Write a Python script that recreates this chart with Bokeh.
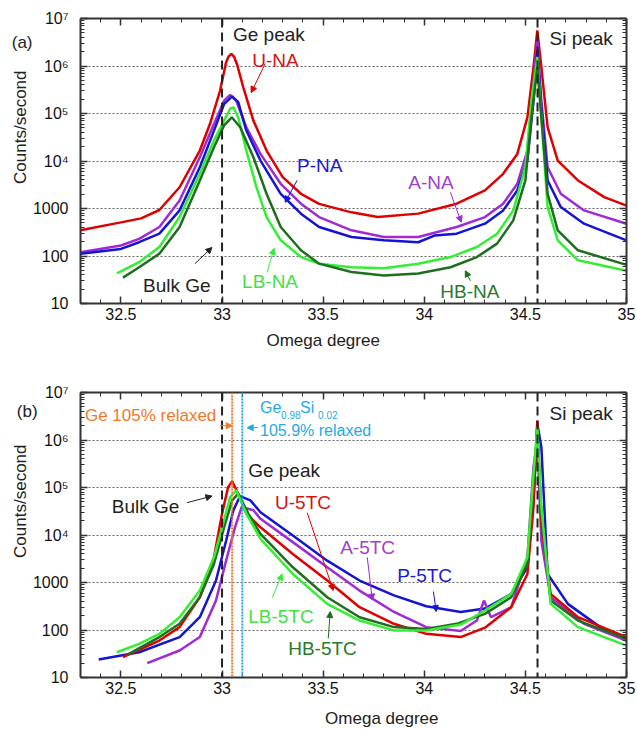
import numpy as np
from bokeh.plotting import figure
from bokeh.layouts import column
from bokeh.models import (FixedTicker, LinearAxis, LogAxis, Span, Label, Title,
                          Arrow, NormalHead, Range1d)
from bokeh.embed import file_html
from bokeh.resources import INLINE

FONT = "Liberation Sans"

# ---------------------------------------------------------------- axes data
x_ticks = [32.5, 33.0, 33.5, 34.0, 34.5, 35.0]
x_tick_labels = ["32.5", "33", "33.5", "34", "34.5", "35"]
y_ticks = [1e1, 1e2, 1e3, 1e4, 1e5, 1e6, 1e7]
y_tick_labels = ["10", "100", "1000", "10\u2074", "10\u2075", "10\u2076", "10\u2077"]

bulk_ge_omega = 33.0
si_peak_omega = 34.56
ge_relaxed_omega = 33.05
gesi_relaxed_omega = 33.10

# ------------------------------------------------------- (a) as-grown (NA)
u_na_x = [32.30, 32.50, 32.60, 32.69, 32.79, 32.89, 32.94, 32.99, 33.02, 33.033,
          33.046, 33.06, 33.075, 33.105, 33.155, 33.22, 33.30, 33.39, 33.48, 33.64,
          33.77, 33.97, 34.16, 34.30, 34.39, 34.46, 34.51, 34.54, 34.559, 34.579,
          34.61, 34.66, 34.76, 34.89, 35.0]
u_na_y = [350, 510, 620, 930, 2800, 16600, 60000, 300000, 1200000, 1600000,
          1800000, 1550000, 1050000, 355000, 70800, 16600, 4570, 2040, 1250, 830,
          660, 780, 1260, 2400, 5370, 14100, 83200, 933000, 5600000, 933000,
          51300, 10200, 3890, 1740, 1150]

a_na_x = [32.30, 32.50, 32.59, 32.69, 32.79, 32.89, 32.96, 33.01, 33.04, 33.07,
          33.12, 33.19, 33.29, 33.39, 33.48, 33.64, 33.80, 33.97, 34.16, 34.30,
          34.39, 34.46, 34.51, 34.54, 34.559, 34.579, 34.61, 34.675, 34.79, 35.0]
a_na_y = [120, 166, 229, 407, 1480, 12000, 60300, 186000, 245000, 186000,
          51300, 14100, 3310, 1260, 660, 347, 251, 251, 407, 660,
          1260, 3310, 16600, 427000, 3470000, 186000, 7410, 2040, 912, 479]

p_na_x = [32.30, 32.50, 32.59, 32.69, 32.79, 32.89, 32.96, 33.01, 33.05, 33.08,
          33.12, 33.19, 33.29, 33.39, 33.48, 33.64, 33.80, 33.97, 34.05, 34.16,
          34.30, 34.39, 34.46, 34.51, 34.54, 34.559, 34.579, 34.61, 34.675, 34.79,
          35.0]
p_na_y = [112, 141, 195, 295, 912, 7410, 43700, 158000, 229000, 174000,
          43700, 10200, 2040, 776, 407, 251, 214, 195, 269, 295,
          479, 912, 2400, 10200, 186000, 2140000, 135000, 3890, 1070, 479,
          214]

lb_na_x = [32.48, 32.59, 32.69, 32.79, 32.89, 32.96, 33.01, 33.04, 33.056, 33.08,
           33.12, 33.17, 33.22, 33.29, 33.39, 33.48, 33.64, 33.80, 33.97, 34.13,
           34.26, 34.36, 34.44, 34.50, 34.53, 34.559, 34.579, 34.61, 34.66, 34.76,
           35.0]
lb_na_y = [43, 74, 155, 660, 5370, 26900, 70800, 126000, 135000, 83200,
           16600, 2820, 660, 214, 95, 69, 58, 55, 69, 95,
           155, 295, 912, 7410, 186000, 1550000, 83200, 1070, 214, 81,
           49]

hb_na_x = [32.51, 32.59, 32.69, 32.79, 32.89, 32.96, 33.01, 33.048, 33.09, 33.155,
           33.22, 33.29, 33.39, 33.48, 33.64, 33.80, 33.97, 34.13, 34.26, 34.36,
           34.44, 34.50, 34.53, 34.559, 34.579, 34.61, 34.66, 34.76, 35.0]
hb_na_y = [35, 58, 112, 407, 3890, 19500, 56200, 83200, 51300, 12000,
           2040, 407, 132, 69, 46, 39, 43, 58, 95, 182,
           562, 3890, 83200, 933000, 83200, 2040, 347, 132, 65]

# -------------------------------------------- (b) thermally cycled (5TC)
u_5tc_x = [32.51, 32.69, 32.79, 32.89, 32.96, 33.00, 33.03, 33.05, 33.08, 33.12,
           33.19, 33.35, 33.52, 33.68, 33.85, 34.01, 34.18, 34.30, 34.43, 34.51,
           34.54, 34.559, 34.579, 34.625, 34.76, 35.0]
u_5tc_y = [27, 60, 115, 490, 3390, 28200, 102000, 135000, 74100, 28200,
           14500, 3980, 1100, 302, 135, 83, 71, 112, 302, 1510,
           38900, 2570000, 17400, 575, 186, 71]

a_5tc_x = [32.63, 32.79, 32.89, 32.97, 33.02, 33.064, 33.097, 33.155, 33.19, 33.35,
           33.52, 33.68, 33.85, 34.01, 34.18, 34.26, 34.295, 34.33, 34.43, 34.51,
           34.54, 34.559, 34.579, 34.625, 34.79, 35.0]
a_5tc_y = [20, 37, 71, 417, 2880, 14500, 38900, 33100, 21900, 7080,
           2090, 676, 240, 115, 95, 158, 417, 186, 302, 3390,
           269000, 977000, 7590, 490, 135, 60]

p_5tc_x = [32.39, 32.59, 32.79, 32.89, 32.97, 33.02, 33.056, 33.089, 33.14, 33.19,
           33.35, 33.52, 33.68, 33.85, 34.01, 34.18, 34.30, 34.43, 34.51, 34.54,
           34.559, 34.579, 34.61, 34.71, 34.87, 35.0]
p_5tc_y = [24, 34, 71, 186, 1100, 7590, 33100, 66100, 53700, 30200,
           9770, 2880, 1100, 537, 316, 240, 282, 575, 2090, 53700,
           2190000, 708000, 1510, 355, 115, 60]

hb_5tc_x = [32.53, 32.69, 32.79, 32.89, 32.96, 33.01, 33.05, 33.08, 33.13, 33.19,
            33.35, 33.52, 33.68, 33.85, 34.01, 34.16, 34.30, 34.43, 34.51, 34.54,
            34.559, 34.579, 34.625, 34.76, 35.0]
hb_5tc_y = [30, 71, 135, 490, 2450, 14500, 53700, 74100, 28200, 10500,
            2090, 490, 186, 115, 105, 135, 219, 490, 2450, 141000,
            1350000, 28200, 417, 158, 65]

lb_5tc_x = [32.48, 32.59, 32.69, 32.79, 32.89, 32.96, 33.01, 33.04, 33.07, 33.12,
            33.19, 33.35, 33.52, 33.68, 33.85, 34.01, 34.18, 34.30, 34.43, 34.51,
            34.54, 34.559, 34.579, 34.625, 34.76, 35.0]
lb_5tc_y = [34, 51, 83, 186, 676, 3390, 20400, 63100, 87100, 28200,
            8320, 1510, 355, 158, 98, 98, 130, 257, 575, 3390,
            195000, 1860000, 38900, 355, 115, 47]

# ---------------------------------------------------------------- colours
RED = "#e00000"
PURPLE = "#a02ad6"
BLUE = "#1414d2"
LGREEN = "#33ee33"
DGREEN = "#1e6e1e"
ORANGE = "#f07828"
CYAN = "#1eaae6"
INK = "#222222"

LABEL_SIZE = "19px"

x_minor = [round(v, 1) for v in np.arange(32.3, 35.001, 0.1)]
y_minor = [m * 10 ** k for k in range(1, 7) for m in range(2, 10)]


def style_axis(ax):
    ax.axis_line_width = 2
    ax.axis_line_color = "#333333"
    ax.major_tick_in = 7
    ax.major_tick_out = 0
    ax.minor_tick_in = 4
    ax.minor_tick_out = 0
    ax.major_tick_line_color = "#333333"
    ax.minor_tick_line_color = "#333333"
    ax.major_tick_line_width = 1.5
    ax.minor_tick_line_width = 1
    ax.major_label_text_font = FONT
    ax.major_label_text_font_size = "16px"
    ax.major_label_text_color = "#111111"


def make_panel(height, top, bottom):
    p = figure(width=637, height=height,
               x_range=Range1d(32.3, 35.0), y_range=Range1d(10, 1e7),
               y_axis_type="log", output_backend="svg", toolbar_location=None,
               min_border_left=80, min_border_right=11,
               min_border_top=top, min_border_bottom=bottom)
    p.background_fill_color = "white"
    p.border_fill_color = "white"
    p.outline_line_color = None

    xt = FixedTicker(ticks=x_ticks, minor_ticks=x_minor)
    yt = FixedTicker(ticks=y_ticks, minor_ticks=y_minor)

    xa = p.xaxis[0]
    xa.ticker = xt
    xa.major_label_overrides = dict(zip(x_ticks, x_tick_labels))
    style_axis(xa)
    xa.major_label_standoff = 4

    ya = p.yaxis[0]
    ya.ticker = yt
    ya.major_label_overrides = dict(zip(y_ticks, y_tick_labels))
    style_axis(ya)
    ya.major_label_standoff = 12

    # mirrored tick marks on the top and right edges, without labels
    top_ax = LinearAxis(ticker=xt)
    style_axis(top_ax)
    top_ax.major_label_overrides = {t: "" for t in x_ticks}
    top_ax.major_label_text_font_size = "1px"
    top_ax.major_label_standoff = 0
    p.add_layout(top_ax, "above")
    right_ax = LogAxis(ticker=yt)
    style_axis(right_ax)
    right_ax.major_label_overrides = {t: "" for t in y_ticks}
    right_ax.major_label_text_font_size = "1px"
    right_ax.major_label_standoff = 0
    p.add_layout(right_ax, "right")

    p.xgrid.visible = False
    p.ygrid.ticker = yt
    p.ygrid.grid_line_color = "#666666"
    p.ygrid.grid_line_dash = "2 2"
    p.ygrid.grid_line_width = 1

    # vertical axis title, placed from the top edge of the frame
    p.add_layout(Title(text="Counts/second", align="right", offset=52, standoff=0,
                       text_font=FONT, text_font_size="17px",
                       text_font_style="normal", text_color=INK), "left")
    return p


def vline(p, x, color, dash, width=2):
    p.add_layout(Span(location=x, dimension="height", line_color=color,
                      line_dash=dash, line_width=width))


def text(p, x, y, s, color=INK, size=LABEL_SIZE, align="left", baseline="middle",
         place="center"):
    lab = Label(x=x, y=y, text=s, text_color=color, text_font=FONT,
                text_font_size=size, text_align=align, text_baseline=baseline)
    if place == "center":
        p.add_layout(lab)
    else:
        p.add_layout(lab, place)


def arrow(p, x0, y0, x1, y1, color):
    p.add_layout(Arrow(end=NormalHead(size=6, line_color=color, fill_color=color,
                                      line_width=1),
                       x_start=x0, y_start=y0, x_end=x1, y_end=y1,
                       line_color=color, line_width=1))


# ------------------------------------------------------------- panel (a)
pa = make_panel(365, 18, 62)
for xs, ys, c in [(u_na_x, u_na_y, RED), (a_na_x, a_na_y, PURPLE),
                  (p_na_x, p_na_y, BLUE), (lb_na_x, lb_na_y, LGREEN),
                  (hb_na_x, hb_na_y, DGREEN)]:
    pa.line(xs, ys, line_color=c, line_width=2.5)

vline(pa, bulk_ge_omega, "#222222", "9 5")
vline(pa, si_peak_omega, "#222222", "9 5")

text(pa, 31.96, 3.1e6, "(a)", size="17px", place="below")
text(pa, 33.50, 1.66, "Omega degree", size="17px", align="center", place="below")
text(pa, 33.054, 4.6e6, "Ge peak")
text(pa, 34.619, 3.8e6, "Si peak")
text(pa, 33.149, 1.3e6, "U-NA", color="#d41414")
text(pa, 33.371, 8100, "P-NA", color="#1a1ad0")
text(pa, 33.921, 3500, "A-NA", color="#a040d0")
text(pa, 33.099, 29, "LB-NA", color="#44e044")
text(pa, 34.079, 18, "HB-NA", color="#2a7a2a")
text(pa, 32.609, 24, "Bulk Ge")
arrow(pa, 33.213, 1.12e6, 33.144, 2.75e5, RED)
arrow(pa, 33.371, 3900, 33.312, 1350, BLUE)
arrow(pa, 34.129, 2190, 34.183, 513, PURPLE)
arrow(pa, 33.223, 45, 33.257, 145, LGREEN)
arrow(pa, 34.228, 30, 34.203, 49, DGREEN)
arrow(pa, 32.866, 69, 32.950, 151, "#222222")

# ------------------------------------------------------------- panel (b)
pb = make_panel(364, 27, 52)
for xs, ys, c in [(p_5tc_x, p_5tc_y, BLUE), (a_5tc_x, a_5tc_y, PURPLE),
                  (u_5tc_x, u_5tc_y, RED), (hb_5tc_x, hb_5tc_y, DGREEN),
                  (lb_5tc_x, lb_5tc_y, LGREEN)]:
    pb.line(xs, ys, line_color=c, line_width=2.5)

vline(pb, bulk_ge_omega, "#222222", "9 5")
vline(pb, si_peak_omega, "#222222", "9 5")
vline(pb, ge_relaxed_omega, ORANGE, "2 1")
vline(pb, gesi_relaxed_omega, CYAN, "2 1")

text(pb, 31.985, 4.0e6, "(b)", size="17px", place="above")
text(pb, 33.79, 1.37, "Omega degree", size="17px", align="center", place="below")
text(pb, 32.322, 3.3e6, "Ge 105% relaxed", color=ORANGE, size="17px")
arrow(pb, 32.99, 2.0e6, 33.05, 2.0e6, ORANGE)
text(pb, 33.188, 4.8e6, "Ge", color=CYAN, size="16px")
text(pb, 33.292, 3.3e6, "0.98", color=CYAN, size="10px")
text(pb, 33.386, 4.8e6, "Si", color=CYAN, size="16px")
text(pb, 33.475, 3.3e6, "0.02", color=CYAN, size="10px")
text(pb, 33.188, 1.58e6, "105.9% relaxed", color=CYAN, size="16px")
arrow(pb, 33.178, 1.82e6, 33.124, 1.82e6, CYAN)
text(pb, 33.129, 2.3e5, "Ge peak")
text(pb, 34.619, 3.6e6, "Si peak")
text(pb, 32.455, 4.0e4, "Bulk Ge")
arrow(pb, 32.827, 4.8e4, 32.950, 6.6e4, "#222222")
text(pb, 33.262, 4.8e4, "U-5TC", color="#d41414")
arrow(pb, 33.421, 2.95e4, 33.550, 676, RED)
text(pb, 33.584, 5500, "A-5TC", color="#a040d0")
arrow(pb, 33.718, 3390, 33.743, 427, PURPLE)
text(pb, 33.866, 1410, "P-5TC", color="#1a1ad0")
arrow(pb, 34.045, 646, 34.059, 245, BLUE)
text(pb, 33.129, 190, "LB-5TC", color="#44e044")
arrow(pb, 33.248, 479, 33.297, 1510, LGREEN)
text(pb, 33.327, 41, "HB-5TC", color="#2a7a2a")
arrow(pb, 33.525, 66, 33.535, 245, DGREEN)

layout = column(pa, pb, spacing=0)
open("out.html", "w").write(file_html(layout, INLINE))
